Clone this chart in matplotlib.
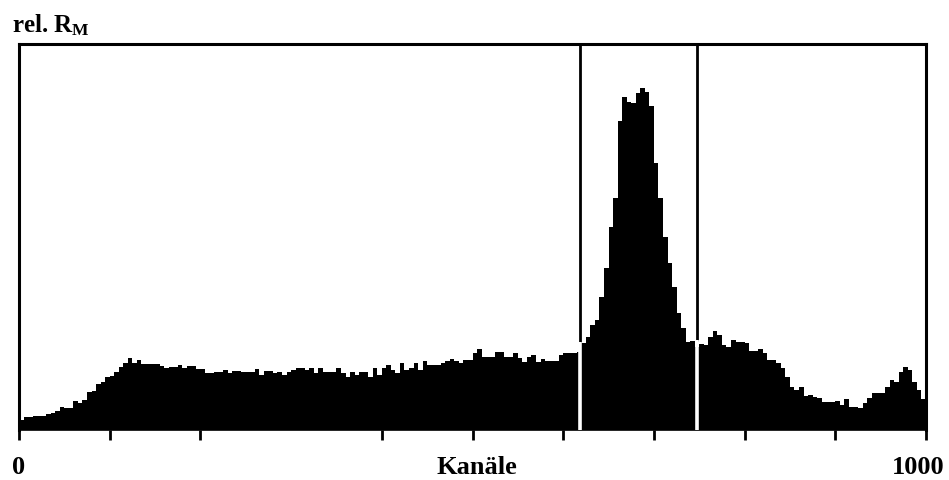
import numpy as np
import matplotlib
matplotlib.use("Agg")
import matplotlib.pyplot as plt

plt.rcParams['font.family'] = ['Liberation Serif', 'DejaVu Serif']
plt.rcParams['mathtext.fontset'] = 'custom'
plt.rcParams['mathtext.rm'] = 'Liberation Serif:bold'
plt.rcParams['mathtext.it'] = 'Liberation Serif:bold'
plt.rcParams['mathtext.bf'] = 'Liberation Serif:bold'

# histogram: 200 bins of 5 channels each (0..1000), relative height (axis top = 100)
bin_width = 5
counts = [
    2.6, 3.4, 3.4, 3.5, 3.6, 3.6, 4.2, 4.4, 4.9, 6.0,
    5.7, 5.7, 7.5, 7.0, 7.8, 9.8, 10.2, 12.0, 12.4, 13.8,
    14.0, 15.0, 16.3, 17.4, 18.7, 17.4, 18.1, 17.1, 17.1, 17.1,
    17.0, 16.6, 16.1, 16.3, 16.3, 16.8, 16.1, 16.6, 16.6, 15.8,
    15.8, 14.8, 14.8, 15.0, 15.0, 15.5, 14.8, 15.3, 15.3, 15.0,
    15.0, 15.0, 15.8, 14.2, 15.3, 15.3, 14.8, 15.0, 14.2, 15.0,
    15.5, 16.1, 16.1, 15.5, 16.1, 14.8, 16.1, 15.0, 15.0, 15.0,
    16.1, 14.8, 13.7, 15.0, 14.2, 15.0, 15.0, 13.7, 16.1, 14.2,
    16.1, 16.8, 15.5, 14.8, 17.4, 15.5, 16.1, 17.4, 15.5, 17.9,
    16.8, 16.8, 16.8, 17.4, 17.9, 18.4, 17.9, 17.4, 18.1, 18.1,
    19.9, 21.0, 18.9, 18.9, 18.9, 20.2, 20.2, 18.9, 18.9, 19.9,
    18.7, 17.6, 18.9, 19.4, 17.6, 18.5, 17.9, 17.9, 17.9, 19.4,
    19.9, 19.9, 19.9, 20.2, 22.5, 24.1, 27.2, 28.5, 34.5, 42.0,
    52.6, 60.0, 80.0, 86.3, 85.0, 84.7, 87.3, 88.6, 87.6, 84.0,
    69.2, 60.0, 50.0, 43.3, 37.0, 30.3, 26.4, 22.8, 23.0, 21.5,
    22.3, 22.0, 24.1, 25.6, 24.5, 22.0, 21.5, 23.3, 22.8, 22.8,
    22.5, 20.5, 20.5, 21.0, 19.9, 18.1, 18.1, 17.4, 16.0, 13.7,
    11.1, 10.4, 11.1, 8.8, 9.0, 8.5, 8.3, 7.3, 7.3, 7.3,
    7.5, 6.5, 8.0, 6.0, 6.0, 5.7, 7.0, 8.3, 9.6, 9.6,
    9.6, 11.1, 13.0, 12.4, 15.0, 16.3, 15.5, 12.4, 10.4, 8.0,
]
gate_lines = [618, 748]
tick_positions = [0, 100, 200, 400, 500, 600, 700, 800, 900, 1000]
x_min_label = "0"
x_max_label = "1000"
x_title = "Kanäle"
y_title = r"rel. $\mathrm{R}_{\mathrm{M}}$"

edges = np.arange(len(counts) + 1) * bin_width

fig = plt.figure(figsize=(9.49, 4.80), dpi=100)
ax = fig.add_axes([19 / 949, 1 - 430 / 480, (926 - 19) / 949, (430 - 44) / 480])

ax.stairs(counts, edges, fill=True, color='black', linewidth=0)

ax.set_xlim(0, 1000)
ax.set_ylim(0, 100)

for g in gate_lines:
    idx = int(g // bin_width)
    h = max(counts[max(idx - 1, 0):idx + 2])
    ax.vlines(g, h, 100, colors='black', linewidth=2.0, zorder=3)
    ax.vlines(g, 0, h + 0.3, colors='white', linewidth=2.6, zorder=3)

for side in ['top', 'left', 'right']:
    ax.spines[side].set_linewidth(2.2)
    ax.spines[side].set_color('black')
ax.spines['bottom'].set_linewidth(1.2)

ax.set_xticks(tick_positions)
ax.set_xticklabels([])
ax.tick_params(axis='x', direction='out', length=7, width=2, color='black')
ax.set_yticks([])

fig.text(12 / 949, 1 - 32 / 480, y_title, fontsize=18, fontweight='bold',
         ha='left', va='baseline')
fig.text(12 / 949, 1 - 474 / 480, x_min_label, fontsize=19, fontweight='bold',
         ha='left', va='baseline')
fig.text(477 / 949, 1 - 474 / 480, x_title, fontsize=19, fontweight='bold',
         ha='center', va='baseline')
fig.text(944 / 949, 1 - 474 / 480, x_max_label, fontsize=19, fontweight='bold',
         ha='right', va='baseline')

fig.savefig("out.png", dpi=100, facecolor='white')
